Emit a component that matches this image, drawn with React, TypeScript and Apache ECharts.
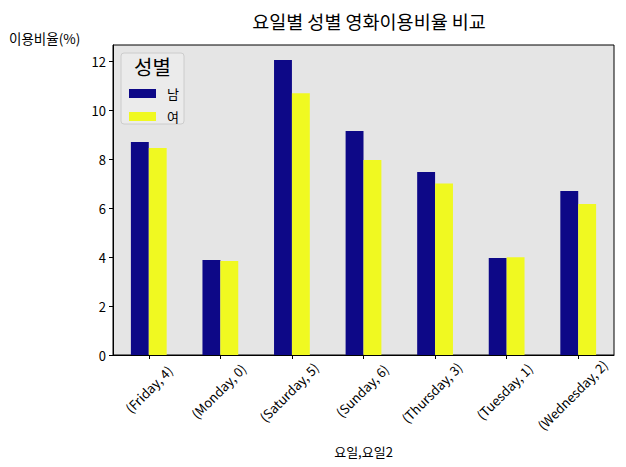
import React, { useEffect, useRef } from "react";
import * as echarts from "echarts";

const categories = [
  "(Friday, 4)",
  "(Monday, 0)",
  "(Saturday, 5)",
  "(Sunday, 6)",
  "(Thursday, 3)",
  "(Tuesday, 1)",
  "(Wednesday, 2)",
];
const maleValues = [8.71, 3.89, 12.07, 9.16, 7.49, 3.97, 6.71];
const femaleValues = [8.47, 3.85, 10.71, 7.98, 7.02, 4.0, 6.18];
const seriesNames = ["남", "여"];
const yTicks = [0, 2, 4, 6, 8, 10, 12];

const FONT = '"Noto Sans CJK KR", "Noto Sans", sans-serif';
const LABEL_SIZE = 13;

export default function App() {
  const ref = useRef<HTMLDivElement>(null);
  useEffect(() => {
    if (!ref.current) return;
    const chart = echarts.init(ref.current, null, { renderer: "svg" });

    // measure label widths to mimic matplotlib's centred, top-aligned rotated labels
    const ctx = document.createElement("canvas").getContext("2d")!;
    ctx.font = `${LABEL_SIZE}px ${FONT}`;
    const h = LABEL_SIZE * 1.1;
    const widths = categories.map((c) => ctx.measureText(c).width);
    const minW = Math.min(...widths);
    const s2 = Math.SQRT2;
    const baseD = (minW + h) / (2 * s2);
    const pad = 8;
    const xData = categories.map((c, i) => {
      const D = (widths[i] + h) / (2 * s2) - baseD;
      const p = s2 * D;
      return {
        value: c,
        textStyle: { align: "center", verticalAlign: "middle", padding: [p, p, 0, 0] },
      };
    });

    chart.setOption({
      animation: false,
      title: {
        text: "요일별 성별 영화이용비율 비교",
        left: 364,
        top: 7,
        textAlign: "center",
        textStyle: { fontFamily: FONT, fontSize: 18.5, fontWeight: "normal", color: "#000" },
      },
      grid: {
        left: 113,
        right: 12,
        top: 45,
        bottom: 112,
        show: true,
        backgroundColor: "#e5e5e5",
        borderColor: "#000",
        borderWidth: 1,
        containLabel: false,
        outerBoundsMode: "none",
      },
      legend: {
        orient: "vertical",
        left: 124,
        top: 82,
        itemWidth: 27,
        itemHeight: 9,
        itemGap: 10,
        icon: "rect",
        z: 10,
        textStyle: { fontFamily: FONT, fontSize: 13, color: "#000", padding: [0, 0, 0, 6] },
        data: seriesNames,
      },
      xAxis: {
        type: "category",
        data: xData,
        name: "요일,요일2",
        nameLocation: "middle",
        nameGap: 90,
        nameTextStyle: { fontFamily: FONT, fontSize: 13, color: "#000" },
        axisLine: { show: true, lineStyle: { color: "#000" } },
        axisTick: { show: true, alignWithLabel: true, length: 4, lineStyle: { color: "#000" } },
        axisLabel: {
          interval: 0,
          rotate: 45,
          margin: pad + baseD,
          fontFamily: FONT,
          fontSize: LABEL_SIZE,
          color: "#000",
        },
        splitLine: { show: false },
      },
      yAxis: {
        type: "value",
        min: 0,
        max: 12.68,
        interval: 2,
        axisLine: { show: true, lineStyle: { color: "#000" } },
        axisTick: { show: true, length: 4, lineStyle: { color: "#000" } },
        axisLabel: {
          fontFamily: FONT,
          fontSize: LABEL_SIZE,
          color: "#000",
          margin: 7,
          showMaxLabel: false,
          formatter: (v: number) => (yTicks.includes(v) ? String(v) : ""),
        },
        splitLine: { show: false },
      },
      graphic: [
        {
          type: "rect",
          shape: { x: 121, y: 53, width: 63, height: 71, r: 3 },
          style: { fill: "rgba(255,255,255,0.25)", stroke: "#cccccc", lineWidth: 1 },
          z: 3,
        },
        {
          type: "text",
          x: 152.5,
          y: 66,
          style: {
            text: "성별",
            fontFamily: FONT,
            fontSize: 20,
            fill: "#000",
            textAlign: "center",
            textVerticalAlign: "middle",
          },
          z: 6,
        },
        {
          type: "text",
          x: 9,
          y: 38,
          style: {
            text: "이용비율(%)",
            fontFamily: FONT,
            fontSize: 13.5,
            fill: "#000",
            textAlign: "left",
            textVerticalAlign: "middle",
          },
        },
      ],
      series: [
        {
          name: seriesNames[0],
          type: "bar",
          data: maleValues,
          barWidth: "25%",
          barGap: "0%",
          itemStyle: { color: "#0d0887" },
        },
        {
          name: seriesNames[1],
          type: "bar",
          data: femaleValues,
          barWidth: "25%",
          barGap: "0%",
          itemStyle: { color: "#f0f921" },
        },
      ],
    });
    return () => chart.dispose();
  }, []);
  return (
    <div
      ref={ref}
      style={{ position: "fixed", left: 0, top: 0, width: 626, height: 467, background: "#fff" }}
    />
  );
}
